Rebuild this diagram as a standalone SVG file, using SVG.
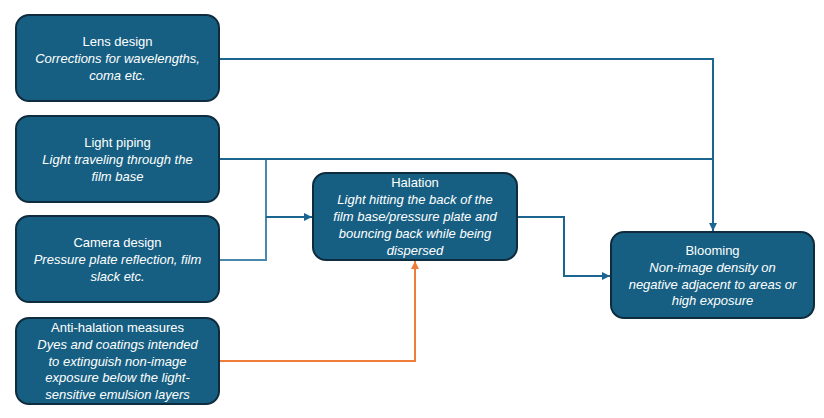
<svg xmlns="http://www.w3.org/2000/svg" width="824" height="418" viewBox="0 0 824 418">
<style>
.box{fill:#175f82;stroke:#0e2c3d;stroke-width:2}
.t{font-family:"Liberation Sans",Arial,sans-serif;font-size:13px;fill:#ffffff;text-anchor:middle}
.i{font-style:italic}
.c{fill:none;stroke:#1b6590;stroke-width:2}
.c2{fill:none;stroke:#4a89ad;stroke-width:2}
.o{fill:none;stroke:#ef7d3a;stroke-width:2}
</style>
<defs>
<marker id="ab" viewBox="0 0 10 10" refX="10" refY="5" markerWidth="4" markerHeight="4" orient="auto" markerUnits="strokeWidth"><path d="M0,0 L10,5 L0,10 z" fill="#1b6590"/></marker>
<marker id="ao" viewBox="0 0 10 10" refX="10" refY="5" markerWidth="4" markerHeight="4" orient="auto" markerUnits="strokeWidth"><path d="M0,0 L10,5 L0,10 z" fill="#ef7d3a"/></marker>
</defs>
<g id="connectors">
<path class="c" d="M219,59 H713 V231" marker-end="url(#ab)"/>
<path class="c" d="M219,159 H713"/>
<path class="c2" d="M219,260 H266 V160"/>
<path class="c" d="M266,217 H312" marker-end="url(#ab)"/>
<path class="c" d="M517,217 H564 V276 H610" marker-end="url(#ab)"/>
<path class="o" d="M219,361 H415 V261" marker-end="url(#ao)"/>
</g>
<g id="lens">
<rect class="box" x="16" y="15" width="203" height="86" rx="13"/>
<text class="t" x="117.5" y="46">Lens design</text>
<text class="t i" x="117.5" y="63">Corrections for wavelengths,</text>
<text class="t i" x="117.5" y="80">coma etc.</text>
</g>
<g id="piping">
<rect class="box" x="16" y="116" width="203" height="86" rx="13"/>
<text class="t" x="117.5" y="147">Light piping</text>
<text class="t i" x="117.5" y="164">Light traveling through the</text>
<text class="t i" x="117.5" y="181">film base</text>
</g>
<g id="camera">
<rect class="box" x="16" y="216" width="203" height="86" rx="13"/>
<text class="t" x="117.5" y="247">Camera design</text>
<text class="t i" x="117.5" y="264">Pressure plate reflection, film</text>
<text class="t i" x="117.5" y="281">slack etc.</text>
</g>
<g id="antihalation">
<rect class="box" x="16" y="318" width="203" height="86" rx="13"/>
<text class="t" x="117.5" y="332">Anti-halation measures</text>
<text class="t i" x="117.5" y="349">Dyes and coatings intended</text>
<text class="t i" x="117.5" y="366">to extinguish non-image</text>
<text class="t i" x="117.5" y="382">exposure below the light-</text>
<text class="t i" x="117.5" y="399">sensitive emulsion layers</text>
</g>
<g id="halation">
<rect class="box" x="313" y="173" width="204" height="87" rx="13"/>
<text class="t" x="415" y="187">Halation</text>
<text class="t i" x="415" y="204">Light hitting the back of the</text>
<text class="t i" x="415" y="221">film base/pressure plate and</text>
<text class="t i" x="415" y="238">bouncing back while being</text>
<text class="t i" x="415" y="255">dispersed</text>
</g>
<g id="blooming">
<rect class="box" x="611" y="232" width="203" height="86" rx="13"/>
<text class="t" x="712.5" y="255">Blooming</text>
<text class="t i" x="712.5" y="272">Non-image density on</text>
<text class="t i" x="712.5" y="289">negative adjacent to areas or</text>
<text class="t i" x="712.5" y="305">high exposure</text>
</g>
</svg>
